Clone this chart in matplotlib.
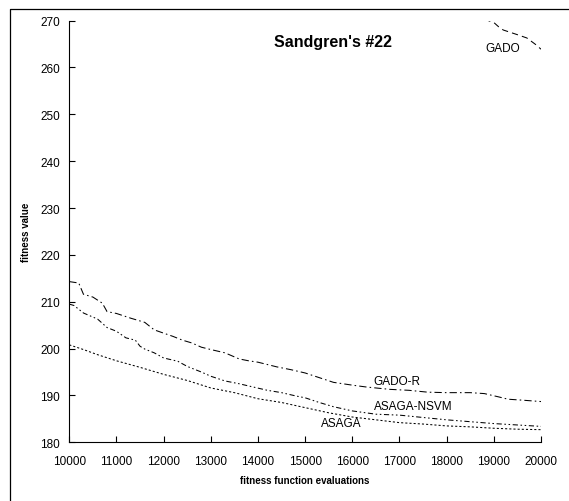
import matplotlib
matplotlib.use("Agg")
import matplotlib.pyplot as plt
from matplotlib.lines import Line2D

plt.rcParams['font.family'] = ['Liberation Sans', 'DejaVu Sans']

# ---- data ----
gado_x = [18800, 19000, 19100, 19200, 19500, 19700, 19900, 20000]
gado_y = [270.3, 269.6, 268.7, 268.0, 267.0, 266.3, 264.8, 263.9]

gador_x = [10000, 10200, 10300, 10500, 10700, 10800, 11000, 11300, 11600, 11800,
           12000, 12200, 12400, 12600, 12800, 13000, 13300, 13600, 13800, 14000,
           14400, 14700, 15000, 15300, 15600, 16000, 16300, 16800, 17200, 17600,
           18000, 18500, 18800, 19100, 19300, 19600, 20000]
gador_y = [214.3, 214.0, 211.6, 211.0, 209.7, 207.9, 207.5, 206.5, 205.6, 204.0,
           203.3, 202.6, 201.8, 201.2, 200.3, 199.8, 199.1, 197.8, 197.4, 197.1,
           196.1, 195.5, 194.8, 193.8, 192.8, 192.2, 191.8, 191.3, 191.1, 190.7,
           190.6, 190.6, 190.4, 189.7, 189.2, 189.0, 188.7]

nsvm_x = [10000, 10100, 10300, 10600, 10800, 11000, 11200, 11400, 11500, 11600,
          11800, 12000, 12300, 12500, 12800, 13000, 13300, 13600, 13900, 14200,
          14500, 14800, 15000, 15300, 15600, 16000, 16500, 17000, 17500, 18000,
          18500, 19000, 19500, 20000]
nsvm_y = [209.5, 209.2, 207.6, 206.3, 204.5, 203.7, 202.3, 201.8, 200.5, 199.9,
          199.1, 198.0, 197.3, 196.2, 195.0, 194.1, 193.1, 192.5, 191.8, 191.1,
          190.6, 189.9, 189.5, 188.5, 187.6, 186.7, 186.0, 185.8, 185.3, 184.8,
          184.4, 184.0, 183.7, 183.4]

asaga_x = [10000, 10300, 10600, 11000, 11500, 12000, 12500, 13000, 13500, 14000,
           14500, 15000, 15500, 16000, 16500, 17000, 17500, 18000, 18500, 19000,
           19500, 20000]
asaga_y = [200.8, 199.8, 198.7, 197.4, 196.0, 194.5, 193.2, 191.6, 190.6, 189.3,
           188.5, 187.4, 186.3, 185.4, 184.8, 184.2, 183.9, 183.5, 183.3, 183.0,
           182.8, 182.7]

fig = plt.figure(figsize=(5.69, 5.02), dpi=100)
ax = fig.add_axes([0.1218, 0.1169, 0.829, 0.840])

lw = 0.75
ax.plot(gado_x, gado_y, color='black', lw=lw, linestyle=(0, (6, 4)))
ax.plot(gador_x, gador_y, color='black', lw=lw, linestyle=(0, (7, 3, 1.5, 3)))
ax.plot(nsvm_x, nsvm_y, color='black', lw=lw, linestyle=(0, (5, 2.5, 1.5, 2.5, 1.5, 2.5)))
ax.plot(asaga_x, asaga_y, color='black', lw=lw, linestyle=(0, (2, 2)))

ax.set_xlim(10000, 20000)
ax.set_ylim(180, 270)
ax.set_xticks(range(10000, 20001, 1000))
ax.set_yticks(range(180, 271, 10))
ax.spines['top'].set_visible(False)
ax.spines['right'].set_visible(False)
ax.tick_params(direction='in', length=4, labelsize=8.5, width=0.8)
ax.tick_params(axis='x', pad=9)
ax.tick_params(axis='y', pad=6.5)

ax.set_xlabel('fitness function evaluations', fontsize=7, fontweight='bold', labelpad=6)
ax.set_ylabel('fitness value', fontsize=7, fontweight='bold')
ax.yaxis.set_label_coords(-0.082, 0.5)

ax.text(15600, 265.5, "Sandgren's #22", fontsize=11.5, fontweight='bold', ha='center', va='center')
ax.text(19180, 264.1, 'GADO', fontsize=8.5, ha='center', va='center')
ax.text(16450, 193.1, 'GADO-R', fontsize=8.5, ha='left', va='center')
ax.text(16450, 187.8, 'ASAGA-NSVM', fontsize=8.5, ha='left', va='center')
ax.text(15340, 184.1, 'ASAGA', fontsize=8.5, ha='left', va='center')

# page frame: only top and left edges are visible in the crop
fig.add_artist(Line2D([9.5 / 569, 9.5 / 569, 1.0], [0.0, 1 - 9.5 / 502, 1 - 9.5 / 502],
                      transform=fig.transFigure, color='black', lw=0.9))

fig.savefig('out.png', dpi=100)
